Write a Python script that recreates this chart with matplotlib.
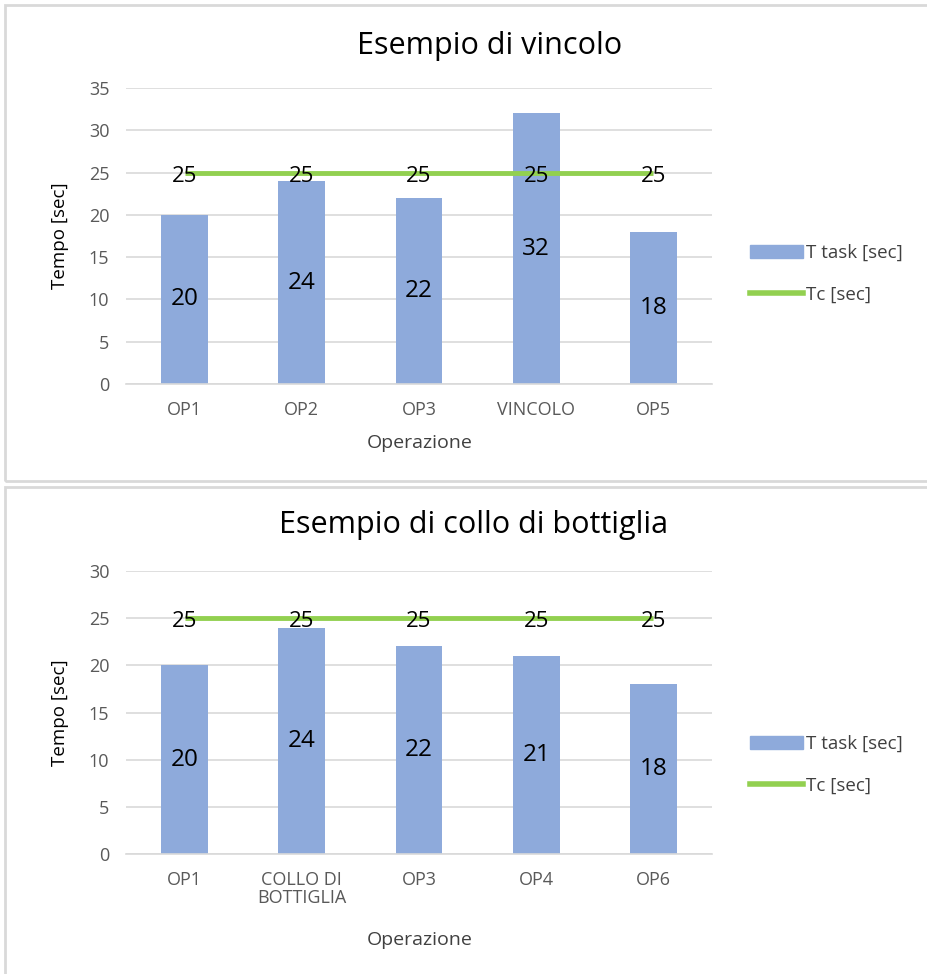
import matplotlib
matplotlib.use("Agg")
import matplotlib.pyplot as plt
from matplotlib.patches import Rectangle
from matplotlib.lines import Line2D

plt.rcParams['font.family'] = ['Open Sans', 'DejaVu Sans']

# dati
cat_vincolo = ["OP1", "OP2", "OP3", "VINCOLO", "OP5"]
task_vincolo = [20, 24, 22, 32, 18]
tc_vincolo = [25, 25, 25, 25, 25]

cat_collo = ["OP1", "COLLO DI\nBOTTIGLIA", "OP3", "OP4", "OP6"]
task_collo = [20, 24, 22, 21, 18]
tc_collo = [25, 25, 25, 25, 25]

BAR = '#8eaadb'
GREEN = '#92d050'
GRID = '#d9d9d9'
TXT = '#595959'

W, H = 927, 974
fig = plt.figure(figsize=(W / 100, H / 100), dpi=100)

# cornici dei due pannelli
for y0, y1 in [(5, 481), (487, 985)]:
    fig.patches.append(Rectangle((5 / W, 1 - y1 / H), 1, (y1 - y0) / H,
                                 transform=fig.transFigure, fill=False,
                                 edgecolor=GRID, linewidth=2))


def draw_panel(ax, cats, task, tc, ymax, title, title_x, title_y, xlabel_y, leg_y):
    x = list(range(len(cats)))
    ax.bar(x, task, width=0.4, color=BAR, zorder=2)
    ax.plot(x, tc, color=GREEN, linewidth=3.5, zorder=3, solid_capstyle='butt')
    for xi, v in zip(x, task):
        ax.text(xi, v / 2, str(v), ha='center', va='center', fontsize=17.5, color='black', zorder=4)
    # etichette della linea Tc, leggermente sotto la linea
    for xi, v in zip(x, tc):
        ax.text(xi, v - 0.03 * ymax / 5 * 2, str(v), ha='center', va='center',
                fontsize=16, color='black', zorder=4)
    ax.set_xlim(-0.5, len(cats) - 0.5)
    ax.set_ylim(0, ymax)
    ax.set_yticks(range(0, ymax + 1, 5))
    ax.set_xticks(x)
    ax.set_xticklabels(cats, fontsize=13, color=TXT, linespacing=1.05)
    ax.tick_params(axis='y', labelsize=13, colors=TXT, length=0, pad=12)
    ax.tick_params(axis='x', length=0, pad=12)
    ax.grid(axis='y', color=GRID, linewidth=1.2, zorder=0)
    ax.set_axisbelow(True)
    for s in ['top', 'right', 'left']:
        ax.spines[s].set_visible(False)
    ax.spines['bottom'].set_color(GRID)
    ax.spines['bottom'].set_linewidth(1.2)
    ax.set_ylabel("Tempo [sec]", fontsize=13.5, color='black', labelpad=14)
    fig.text(title_x / W, 1 - title_y / H, title, ha='center', va='center', fontsize=22, color='black')
    fig.text(420 / W, 1 - xlabel_y / H, "Operazione", ha='center', va='center', fontsize=14, color='#404040')
    handles = [Rectangle((0, 0), 1, 1, color=BAR),
               Line2D([0], [0], color=GREEN, linewidth=4)]
    fig.legend(handles, ["T task [sec]", "Tc [sec]"], loc='upper left',
               bbox_to_anchor=(750 / W, 1 - leg_y / H), frameon=False,
               fontsize=13.5, labelspacing=1.25, handlelength=2.8, handletextpad=0.2,
               labelcolor='#404040', borderaxespad=0, borderpad=0)


ax1 = fig.add_axes([126 / W, 1 - 384 / H, 586 / W, (384 - 88) / H])
draw_panel(ax1, cat_vincolo, task_vincolo, tc_vincolo, 35,
           "Esempio di vincolo", 490, 46, 443, 244)

ax2 = fig.add_axes([126 / W, 1 - 854 / H, 586 / W, (854 - 571) / H])
draw_panel(ax2, cat_collo, task_collo, tc_collo, 30,
           "Esempio di collo di bottiglia", 474, 525, 940, 735)

fig.savefig("out.png", dpi=100, facecolor='white')
